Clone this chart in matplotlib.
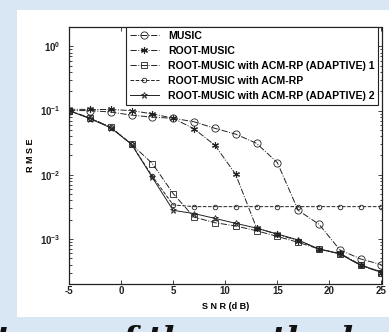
import numpy as np
import matplotlib
matplotlib.use('Agg')
import matplotlib.pyplot as plt
from matplotlib.patches import Rectangle
from matplotlib.ticker import FixedLocator, NullFormatter, LogLocator

plt.rcParams['font.family'] = ['Liberation Sans', 'DejaVu Sans']
plt.rcParams['mathtext.fontset'] = 'custom'
plt.rcParams['mathtext.bf'] = 'Liberation Sans:bold'
plt.rcParams['mathtext.rm'] = 'Liberation Sans:bold'

# SNR 点
snr = [-5, -3, -1, 1, 3, 5, 7, 9, 11, 13, 15, 17, 19, 21, 23, 25]

# 各方法的 RMSE
rmse_music = [0.1, 0.1, 0.095, 0.085, 0.079, 0.076, 0.067, 0.053, 0.043, 0.031,
              0.0155, 0.0028, 0.0017, 0.00068, 0.00049, 0.0004]
rmse_root = [0.105, 0.104, 0.104, 0.1, 0.089, 0.076, 0.052, 0.029, 0.0102, 0.0015,
             0.00118, 0.00095, 0.0007, 0.0006, 0.0004, 0.0003]
rmse_adapt1 = [0.1, 0.077, 0.055, 0.030, 0.015, 0.0051, 0.0022, 0.0018, 0.0016, 0.00135,
               0.0011, 0.00089, 0.0007, 0.00059, 0.00039, 0.0003]
rmse_acmrp = [0.1, 0.076, 0.055, 0.030, 0.0095, 0.0034, 0.0032, 0.0032, 0.0032, 0.0032,
              0.0032, 0.0032, 0.0032, 0.0032, 0.0032, 0.0032]
rmse_adapt2 = [0.1, 0.075, 0.054, 0.030, 0.0091, 0.0028, 0.0025, 0.0021, 0.00176, 0.00148,
               0.0012, 0.00097, 0.0007, 0.00059, 0.00039, 0.00031]

labels = ['MUSIC', 'ROOT-MUSIC', 'ROOT-MUSIC with ACM-RP (ADAPTIVE) 1',
          'ROOT-MUSIC with ACM-RP', 'ROOT-MUSIC with ACM-RP (ADAPTIVE) 2']

W, H = 389, 332
fig = plt.figure(figsize=(W / 100, H / 100), dpi=100, facecolor='#d9e7f4')
# 白色图片区域
fig.patches.append(Rectangle((17 / W, 1 - 317 / H), 1, 307 / H, transform=fig.transFigure,
                             facecolor='white', edgecolor='none', zorder=-10))

ax = fig.add_axes([69 / W, 1 - 284 / H, 312.5 / W, 257 / H])
ax.set_zorder(1)
ax.set_facecolor('white')

lc = '#222222'
lw = 0.7
asterisk = (6, 2, 0)
ax.semilogy(snr, rmse_music, '-.', color=lc, lw=lw, marker='o', ms=5.2, mfc='none', mec=lc, mew=0.6, label=labels[0])
ax.semilogy(snr, rmse_root, '-.', color=lc, lw=lw, marker=asterisk, ms=5, mec=lc, mew=0.8, label=labels[1])
ax.semilogy(snr, rmse_adapt1, '-.', color=lc, lw=lw, marker='s', ms=4.8, mfc='none', mec=lc, mew=0.6, label=labels[2])
ax.semilogy(snr, rmse_acmrp, '--', color=lc, lw=lw, marker='o', ms=3.3, mfc='none', mec=lc, mew=0.6, label=labels[3])
ax.semilogy(snr, rmse_adapt2, '-', color=lc, lw=lw, marker='*', ms=4.5, mfc='none', mec=lc, mew=0.6, label=labels[4])

ax.set_xlim(-5, 25)
ax.set_ylim(2e-4, 2)
ax.set_xticks([-5, 0, 5, 10, 15, 20, 25])
ax.set_xticklabels(['-5', '0', '5', '10', '15', '20', '25'], fontweight='bold')
ax.yaxis.set_major_locator(FixedLocator([1e-3, 1e-2, 1e-1, 1]))
ax.set_yticklabels([r'$\mathbf{10^{-3}}$', r'$\mathbf{10^{-2}}$', r'$\mathbf{10^{-1}}$', r'$\mathbf{10^{0}}$'])
ax.yaxis.set_minor_locator(LogLocator(base=10, subs=np.arange(2, 10), numticks=20))
ax.yaxis.set_minor_formatter(NullFormatter())
ax.tick_params(which='both', direction='in', top=True, right=True, labelsize=7, width=0.6, colors='#222222')
ax.tick_params(which='major', length=3)
ax.tick_params(which='minor', length=1.8)
ax.tick_params(axis='x', pad=1.5)
ax.tick_params(axis='y', pad=6)
for s in ax.spines.values():
    s.set_linewidth(0.9)
    s.set_color('#222222')

ax.set_xlabel('S N R (d B)', fontsize=6.5, fontweight='bold', labelpad=4)
ax.set_ylabel('R M S E', fontsize=6.5, fontweight='bold', labelpad=4)

leg = ax.legend(loc='upper right', bbox_to_anchor=(0.99, 1.0), borderaxespad=0,
                prop={'weight': 'bold', 'size': 7.6}, fancybox=False, framealpha=1,
                edgecolor='#222222', handlelength=2.7, handletextpad=0.9,
                labelspacing=0.48, borderpad=0.35)
leg.get_frame().set_linewidth(0.8)

# 下方被截断的正文
fig.text(-0.01, 0.02, 'types of the methods', fontsize=23, fontweight='bold',
         fontstyle='italic', family='DejaVu Serif', color='#111111', ha='left', va='top')

fig.savefig('out.png', dpi=100, facecolor=fig.get_facecolor())
